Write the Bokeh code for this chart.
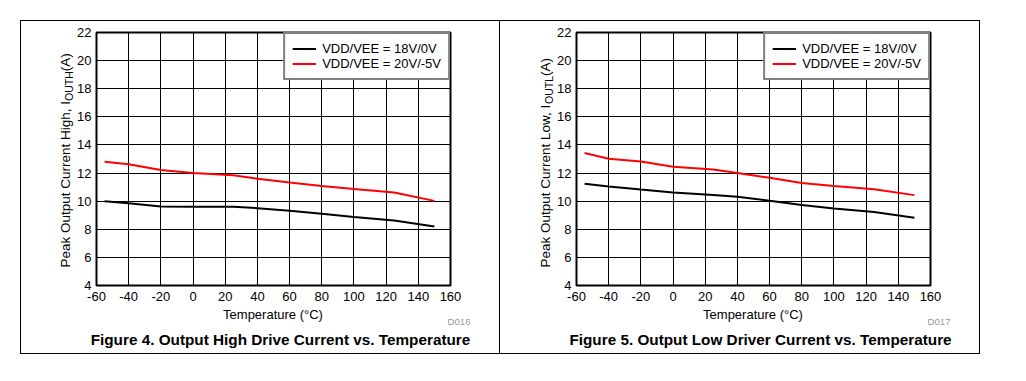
import math
from bokeh.plotting import figure
from bokeh.models import Range1d, FixedTicker, Label, Legend, LegendItem, Spacer
from bokeh.layouts import row, column
from bokeh.embed import file_html
from bokeh.resources import INLINE

# ---------------- data ----------------
temperature = [-55, -40, -20, 0, 25, 40, 60, 80, 100, 125, 150]

# Figure 4: peak output current high (A)
iouth_18v = [10.0, 9.85, 9.62, 9.6, 9.6, 9.5, 9.32, 9.1, 8.88, 8.62, 8.2]
iouth_20v = [12.8, 12.62, 12.22, 12.0, 11.85, 11.6, 11.32, 11.08, 10.86, 10.62, 10.02]

# Figure 5: peak output current low (A)
ioutl_18v = [11.24, 11.05, 10.83, 10.62, 10.44, 10.32, 10.03, 9.72, 9.48, 9.23, 8.82]
ioutl_20v = [13.42, 13.02, 12.82, 12.45, 12.25, 12.0, 11.66, 11.3, 11.08, 10.85, 10.43]

series_labels = ["VDD/VEE = 18V/0V", "VDD/VEE = 20V/-5V"]
series_colors = ["#000000", "#ff0000"]

x_ticks = [-60, -40, -20, 0, 20, 40, 60, 80, 100, 120, 140, 160]
x_tick_labels = ["-60", "-40", "-20", "0", "20", "40", "60", "80", "100", "120", "140", "160"]
y_ticks = [4, 6, 8, 10, 12, 14, 16, 18, 20, 22]
y_tick_labels = ["4", "6", "8", "10", "12", "14", "16", "18", "20", "22"]

x_title = "Temperature (°C)"
y_title_main = ["Peak Output Current High, I", "Peak Output Current Low, I"]
y_title_sub = ["OUTH", "OUTL"]
y_title_tail = " (A)"
captions = ["Figure 4. Output High Drive Current vs. Temperature",
            "Figure 5. Output Low Driver Current vs. Temperature"]
codes = ["D016", "D017"]

# ---------------- styling ----------------
FONT = "Liberation Sans"
FRAME_W, FRAME_H = 355, 253
X0, X1, Y0, Y1 = -60, 160, 4, 22
PANEL_H = 332
CHART_H = 286
BOTTOM_H = PANEL_H - CHART_H
FRAME_LEFT_IN_CHART = 21
FRAME_RIGHT_BORDER = 49
CHART_W = FRAME_LEFT_IN_CHART + FRAME_W + FRAME_RIGHT_BORDER
FRAME_TOP = 11
FRAME_BOTTOM_BORDER = CHART_H - FRAME_TOP - FRAME_H

# Arial / Liberation Sans advance widths (per em) for the rotated title pieces
W = {" ": .278, "(": .333, ")": .333, ",": .278, "A": .667, "C": .722, "H": .722,
     "I": .278, "L": .556, "O": .778, "P": .667, "T": .611, "U": .722, "a": .556,
     "e": .556, "g": .556, "h": .556, "i": .222, "k": .5, "n": .556, "o": .556,
     "p": .556, "r": .333, "t": .278, "u": .556, "w": .722}


def text_len(s, size):
    return sum(W.get(c, .556) for c in s) * size


def blank_fig(w, h, top=0, bottom=0):
    f = figure(width=w, height=h, x_range=Range1d(0, w), y_range=Range1d(h - bottom, top),
               output_backend="svg", toolbar_location=None, title=None,
               x_axis_location=None, y_axis_location=None,
               min_border_left=0, min_border_right=0,
               min_border_top=top, min_border_bottom=bottom)
    f.outline_line_color = None
    f.background_fill_color = "white"
    f.border_fill_color = "white"
    for g in f.grid:
        g.visible = False
    return f


def make_chart(y18, y20):
    p = figure(width=CHART_W, height=CHART_H, x_range=Range1d(X0, X1), y_range=Range1d(Y0, Y1),
               output_backend="svg", toolbar_location=None, title=None,
               min_border_left=FRAME_LEFT_IN_CHART, min_border_right=FRAME_RIGHT_BORDER,
               min_border_top=FRAME_TOP, min_border_bottom=FRAME_BOTTOM_BORDER)
    p.background_fill_color = "white"
    p.border_fill_color = "white"
    p.outline_line_color = "black"
    p.outline_line_width = 2

    r1 = p.line(temperature, y18, line_color=series_colors[0], line_width=2)
    r2 = p.line(temperature, y20, line_color=series_colors[1], line_width=2)

    for ax in (p.xaxis[0], p.yaxis[0]):
        ax.axis_line_color = None
        ax.major_tick_line_color = None
        ax.minor_tick_line_color = None
        ax.major_tick_out = 0
        ax.major_tick_in = 0
        ax.major_label_text_font = FONT
        ax.major_label_text_font_size = "13px"
        ax.major_label_text_color = "black"
    p.xaxis.ticker = FixedTicker(ticks=x_ticks)
    p.yaxis.ticker = FixedTicker(ticks=y_ticks)
    p.xaxis.major_label_overrides = dict(zip(x_ticks, x_tick_labels))
    p.yaxis.major_label_overrides = dict(zip(y_ticks, y_tick_labels))
    p.xaxis.major_label_standoff = 6
    p.yaxis.major_label_standoff = 5

    for g in (p.xgrid[0], p.ygrid[0]):
        g.grid_line_color = "black"
        g.grid_line_width = 1
        g.grid_line_alpha = 1
    p.xgrid.ticker = FixedTicker(ticks=x_ticks)
    p.ygrid.ticker = FixedTicker(ticks=y_ticks)

    legend = Legend(items=[LegendItem(label=series_labels[0], renderers=[r1]),
                           LegendItem(label=series_labels[1], renderers=[r2])],
                    location="top_right", margin=0, padding=7, spacing=0,
                    glyph_width=24, glyph_height=15, label_height=15, label_standoff=6,
                    border_line_color="black", border_line_width=2,
                    label_text_font=FONT, label_text_font_size="13px",
                    label_text_color="black", background_fill_color="white",
                    background_fill_alpha=1)
    p.add_layout(legend)
    return p


def make_ytitle(i, width):
    # same top/bottom borders as the chart, so its frame lines up with the chart frame
    f = blank_fig(width, CHART_H, top=FRAME_TOP, bottom=FRAME_BOTTOM_BORDER)
    main_size, sub_size = 13.5, 10.5
    start = 246                      # px from panel top where the title begins
    base_x = width + FRAME_LEFT_IN_CHART - 30
    l1 = text_len(y_title_main[i], main_size)
    l2 = text_len(y_title_sub[i], sub_size)
    pieces = [(y_title_main[i], main_size, base_x, start),
              (y_title_sub[i], sub_size, base_x + 3, start - l1),
              (y_title_tail, main_size, base_x, start - l1 - l2)]
    for txt, sz, bx, by in pieces:
        f.add_layout(Label(x=bx, y=by, text=txt, angle=math.pi / 2,
                           text_align="left", text_baseline="alphabetic",
                           text_font=FONT, text_font_size=f"{sz}px", text_color="black"))
    return f


def make_bottom(i, width, frame_left):
    f = blank_fig(width, BOTTOM_H)
    f.add_layout(Label(x=frame_left + FRAME_W / 2, y=7, text=x_title, text_align="center",
                       text_baseline="middle", text_font=FONT, text_font_size="13px",
                       text_color="black"))
    f.add_layout(Label(x=frame_left + 375, y=14, text=codes[i], text_align="right",
                       text_baseline="middle", text_font=FONT, text_font_size="9.6px",
                       text_color="#9a9a9a"))
    f.add_layout(Label(x=frame_left + 185, y=32, text=captions[i], text_align="center",
                       text_baseline="middle", text_font=FONT, text_font_size="15.3px",
                       text_font_style="bold", text_color="black"))
    return f


def make_panel(i, y18, y20, title_w):
    top = row(make_ytitle(i, title_w), make_chart(y18, y20))
    bottom = make_bottom(i, title_w + CHART_W, title_w + FRAME_LEFT_IN_CHART)
    return column(top, bottom)


panel1 = make_panel(0, iouth_18v, iouth_20v, 53)
panel2 = make_panel(1, ioutl_18v, ioutl_20v, 54)

BLACK = {"background-color": "black"}
box = column(
    Spacer(width=960, height=1, styles=BLACK),
    row(Spacer(width=1, height=PANEL_H, styles=BLACK), panel1,
        Spacer(width=1, height=PANEL_H, styles=BLACK), panel2,
        Spacer(width=1, height=PANEL_H, styles=BLACK)),
    Spacer(width=960, height=1, styles=BLACK),
)
page = column(Spacer(width=10, height=20), row(Spacer(width=20, height=10), box))

open("out.html", "w").write(file_html(page, INLINE))
